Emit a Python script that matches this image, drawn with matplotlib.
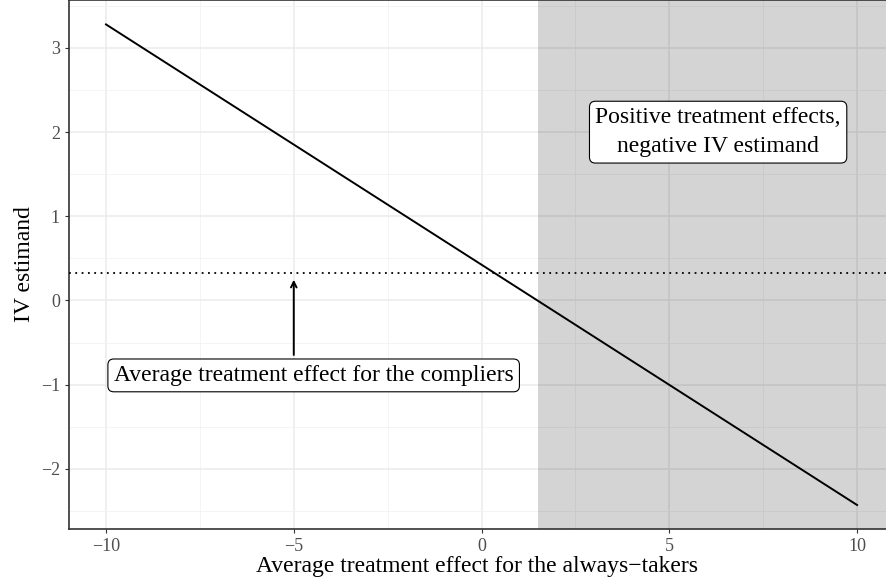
import matplotlib
matplotlib.use("Agg")
import matplotlib.pyplot as plt
import numpy as np

plt.rcParams['font.family'] = ['Liberation Serif', 'DejaVu Serif']

x_ends = [-10, 10]
iv_ends = [3.28, -2.43]
late = 0.33
shade_start = 1.5
xticks = [-10, -5, 0, 5, 10]
yticks = [-2, -1, 0, 1, 2, 3]

fig = plt.figure(figsize=(8.86, 5.88), dpi=100)
ax = fig.add_axes([69/886, (588-529)/588, 817/886, 529/588])
ax.set_xlim(-10.985, 10.77)
ax.set_ylim(-2.715, 3.57)

ax.set_xticks(xticks)
ax.set_xticklabels([str(t).replace('-', '\u2212') for t in xticks])
ax.set_yticks(yticks)
ax.set_yticklabels([str(t).replace('-', '\u2212') for t in yticks])
ax.set_xticks(np.arange(-7.5, 10, 5), minor=True)
ax.set_yticks(np.arange(-2.5, 4, 1), minor=True)
ax.grid(True, which='major', color='#ebebeb', lw=1.1)
ax.grid(True, which='minor', color='#f2f2f2', lw=0.6)
ax.set_axisbelow(True)
ax.tick_params(which='minor', length=0)
ax.tick_params(which='major', length=3, color='#333333', labelsize=13, labelcolor='#4d4d4d')
for s in ax.spines.values():
    s.set_color('#333333')
    s.set_linewidth(1.2)
ax.spines['right'].set_visible(False)

ax.axvspan(shade_start, 20, color='black', alpha=0.17, zorder=2, lw=0)
ax.plot(x_ends, iv_ends, color='black', lw=1.4, zorder=3)
ax.axhline(late, color='black', ls=(0, (1, 2.5)), lw=1.3, zorder=3)
ax.annotate('', xy=(-5, 0.28), xytext=(-5, -0.68),
            arrowprops=dict(arrowstyle='->', color='black', lw=1.4), zorder=4)
bbox = dict(boxstyle='round,pad=0.25', fc='white', ec='black', lw=0.8)
ax.text(-4.47, -0.89, 'Average treatment effect for the compliers', ha='center', va='center',
        fontsize=17, bbox=bbox, zorder=5)
ax.text(6.3, 2.0, 'Positive treatment effects,\nnegative IV estimand', ha='center', va='center',
        fontsize=17, bbox=bbox, zorder=5, linespacing=1.5)

ax.set_xlabel('Average treatment effect for the always\u2212takers', fontsize=17, labelpad=1)
ax.set_ylabel('IV estimand', fontsize=17)
fig.savefig('out.png', dpi=100)
